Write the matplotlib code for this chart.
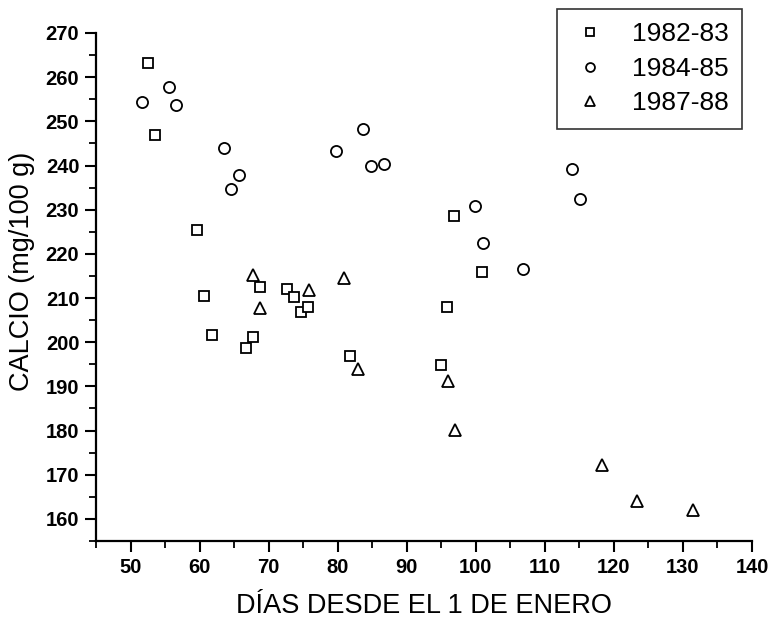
import matplotlib
matplotlib.use('Agg')
import matplotlib.pyplot as plt
from matplotlib.ticker import MultipleLocator

plt.rcParams['font.family'] = ['Liberation Sans', 'DejaVu Sans']

# 1982-83
dias_8283 = [52.5, 53.6, 59.6, 60.7, 61.8, 66.7, 67.7, 68.7, 72.7, 73.7, 74.7, 75.7, 81.8, 94.9, 95.9, 96.9, 100.9]
calcio_8283 = [263.2, 247.0, 225.5, 210.4, 201.7, 198.7, 201.1, 212.5, 212.1, 210.2, 206.8, 208.0, 196.8, 194.9, 208.0, 228.6, 215.8]
# 1984-85
dias_8485 = [51.6, 55.5, 56.6, 63.6, 65.7, 64.6, 79.7, 83.7, 84.8, 86.7, 99.9, 101.0, 106.9, 114.0, 115.1]
calcio_8485 = [254.4, 257.8, 253.6, 244.0, 237.9, 234.7, 243.2, 248.2, 239.8, 240.4, 230.9, 222.5, 216.6, 239.1, 232.5]
# 1987-88
dias_8788 = [67.7, 68.8, 75.8, 80.9, 83.0, 96.0, 97.0, 118.3, 123.3, 131.4]
calcio_8788 = [215.3, 207.8, 211.9, 214.5, 193.9, 191.2, 180.1, 172.2, 164.1, 162.1]

fig = plt.figure(figsize=(7.71, 6.18), dpi=100)
ax = fig.add_axes([96 / 771, 77 / 618, 656 / 771, 508 / 618])

mk = dict(linestyle='none', markerfacecolor='white', markeredgecolor='black',
          markeredgewidth=1.3, color='black')
ax.plot(dias_8283, calcio_8283, marker='s', markersize=7.5, label='1982-83', **mk)
ax.plot(dias_8485, calcio_8485, marker='o', markersize=8, label='1984-85', **mk)
ax.plot(dias_8788, calcio_8788, marker='^', markersize=8.5, label='1987-88', **mk)

ax.set_xlim(45, 140)
ax.set_ylim(155, 270)
ax.xaxis.set_minor_locator(MultipleLocator(5))
ax.yaxis.set_minor_locator(MultipleLocator(5))
ax.set_xticks(range(50, 141, 10))
ax.set_yticks(range(160, 271, 10))

for s in ['top', 'right']:
    ax.spines[s].set_visible(False)
for s in ['left', 'bottom']:
    ax.spines[s].set_linewidth(1.6)

ax.tick_params(which='major', direction='out', length=8, width=1.5, labelsize=14.5, pad=4)
ax.tick_params(which='minor', direction='out', length=5, width=1.3)
for lbl in ax.get_xticklabels() + ax.get_yticklabels():
    lbl.set_fontweight('bold')

ax.set_xlabel('DÍAS DESDE EL 1 DE ENERO', fontsize=19.5, labelpad=12)
ax.set_ylabel('CALCIO (mg/100 g)', fontsize=19.5)
ax.yaxis.set_label_coords(-0.093, 0.53)

leg = fig.legend(loc='upper right', bbox_to_anchor=(742 / 771, 1 - 9 / 618),
                 fontsize=19, frameon=True, fancybox=False, markerscale=0.8,
                 handletextpad=0.85, borderpad=0.5, labelspacing=0.4,
                 handlelength=1.5, borderaxespad=0)
leg.get_frame().set_edgecolor('black')
leg.get_frame().set_linewidth(1.2)

fig.savefig('out.png', dpi=100)
